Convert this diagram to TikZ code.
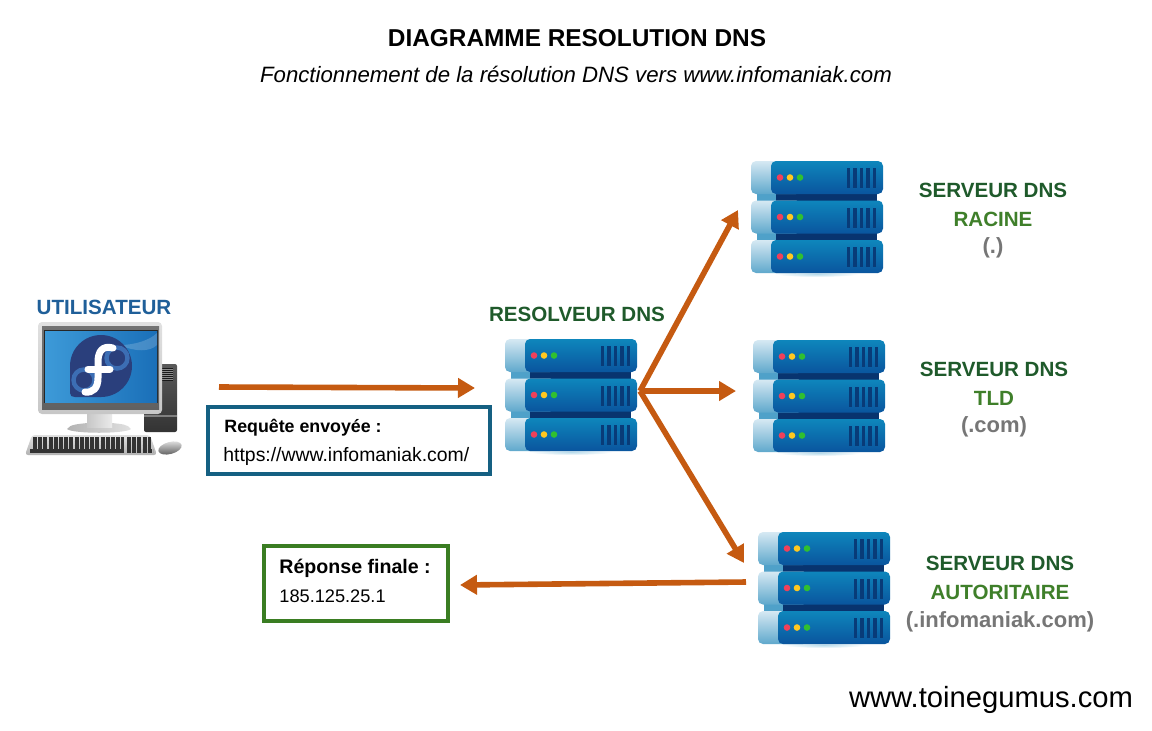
\documentclass[tikz,border=0pt]{standalone}
\usepackage{fontspec}
\setmainfont{Liberation Sans}
\usetikzlibrary{arrows.meta,shadings}
\definecolor{arrowc}{HTML}{C55A11}
\definecolor{dkgreen}{HTML}{1F5A2B}
\definecolor{ltgreen}{HTML}{3F7F2A}
\definecolor{greyt}{HTML}{767676}
\definecolor{bluet}{HTML}{1F5F99}
\definecolor{boxblue}{HTML}{156082}
\definecolor{boxgreen}{HTML}{3A7D22}
\definecolor{srvA}{HTML}{0E86BC}
\definecolor{srvB}{HTML}{0A559E}
\definecolor{srvD}{HTML}{08346F}
\definecolor{srvL}{HTML}{D6E9F3}
\definecolor{srvM}{HTML}{5FA8CC}
\definecolor{fedbg}{HTML}{2A3F7C}
\definecolor{fedsw}{HTML}{3C6EB4}
\definecolor{scrA}{HTML}{3D9AD8}
\definecolor{scrB}{HTML}{1A6FB8}
\definecolor{dotR}{HTML}{F0405A}
\definecolor{dotY}{HTML}{FFC820}
\definecolor{dotG}{HTML}{30C030}
\tikzset{
  flow/.style={draw=arrowc,line width=2.8pt,-{Triangle[length=8.5pt,width=9.5pt]}},
  labelt/.style={font=\bfseries\fontsize{10.3}{12}\selectfont,align=center,inner sep=0pt},
  labelg/.style={font=\bfseries\fontsize{11}{12}\selectfont,align=center,inner sep=0pt,text=greyt},
  infobox/.style={line width=1.8pt,fill=white,inner sep=0pt},
  infot/.style={anchor=west,inner sep=0pt},
}
\newcommand{\rackunit}[1]{%
  \begin{scope}[shift={(0,#1)}]
    \shade[top color=srvL,bottom color=srvM,rounded corners=2.5pt] (0,0) rectangle (50,33);
    \shade[top color=srvA,bottom color=srvB,rounded corners=2.5pt] (20,0) rectangle (132,33);
    \fill[dotR] (29,16.5) circle (3.3);
    \fill[dotY] (39,16.5) circle (3.3);
    \fill[dotG] (49,16.5) circle (3.3);
    \foreach \bx in {95.5,102,108.5,115,121.5}
      \fill[srvD!80!srvB] (\bx,7) rectangle ++(3.6,20);
  \end{scope}}
\newcommand{\serverpic}[2]{%
  \begin{scope}[shift={(#1,#2)}]
    \shade[inner color=srvA!30,outer color=white] (66,113) ellipse[x radius=42,y radius=3];
    \fill[srvM!80!srvA] (6,30) rectangle (25,43);
    \fill[srvM!80!srvA] (6,70) rectangle (25,82);
    \fill[srvD] (25,30) rectangle (126,43);
    \fill[srvD] (25,70) rectangle (126,82);
    \rackunit{0}
    \rackunit{39.5}
    \rackunit{79}
  \end{scope}}
\begin{document}
\begin{tikzpicture}[x=0.5pt,y=-0.5pt]
\useasboundingbox (0,0) rectangle (1152,730);
% Titles
\node[font=\bfseries\fontsize{12.2}{14}\selectfont,inner sep=0pt] (title) at (577,38) {DIAGRAMME RESOLUTION DNS};
\node[font=\itshape\fontsize{11.1}{13}\selectfont,inner sep=0pt] (subtitle) at (576,74) {Fonctionnement de la résolution DNS vers www.infomaniak.com};
% Servers
\serverpic{505}{339}
\serverpic{751}{161}
\serverpic{753}{340}
\serverpic{758}{532}
% Computer
\begin{scope}
  \shade[top color=black!65,bottom color=black!80,rounded corners=1pt] (144,364) rectangle (177,432);
  \fill[black!90] (162,368) rectangle (173,381);
  \foreach \vy in {369,371,373,375,377,379}{\draw[black!45,line width=.4pt] (162,\vy) -- (173,\vy);}
  \fill[black!50] (144,415) rectangle (177,417);
  \shade[left color=black!30,right color=black!12] (67,429) .. controls (70,424) and (80,424) .. (87,423) -- (112,423) .. controls (120,424) and (128,424) .. (131,429) .. controls (125,434) and (73,434) .. (67,429) -- cycle;
  \shade[left color=black!22,right color=black!8] (87,412) rectangle (112,427);
  \shade[top color=black!12,bottom color=black!22,rounded corners=2pt] (38,322) rectangle (162,414);
  \shade[top color=black!55,bottom color=black!62] (42,326) rectangle (159,409);
  \fill[black!85] (44,330) rectangle (158,403);
  \shade[left color=scrA,right color=scrB] (45,331) rectangle (157,402);
  \fill[white,opacity=.18] (120,345) .. controls (135,345) and (150,340) .. (157,333) -- (157,345) .. controls (150,352) and (135,352) .. (120,345) -- cycle;
  % Keyboard
  \shade[top color=black!12,bottom color=black!30,rounded corners=1.5pt] (25,455) -- (32,435) -- (150,435) -- (157,455) -- cycle;
  \foreach \ky in {439,443,447}{
    \draw[black!80,line width=1.6pt,dash pattern=on 2pt off .6pt] (33,\ky) -- (124,\ky);
    \draw[black!80,line width=1.6pt,dash pattern=on 2pt off .6pt] (127,\ky) -- (151,\ky);}
  \draw[black!80,line width=1.6pt] (30,451) -- (124,451);
  \draw[black!80,line width=1.6pt,dash pattern=on 2pt off .6pt] (127,451) -- (153,451);
  % Mouse
  \shade[top color=black!15,bottom color=black!65,rotate around={15:(170,448)}] (170,448) ellipse[x radius=12,y radius=6];
  % Fedora logo
  \fill[fedbg] (101,366) circle (31);
  \fill[fedbg] (70,366) -- (70,393) .. controls (70,396) and (72,397) .. (75,397) -- (101,397) -- cycle;
  \draw[fedsw,line width=2.2pt] (84,380) circle (10.5);
  \draw[fedsw,line width=2.2pt] (117,358) circle (10.5);
  \draw[white,line width=3.5pt,line cap=round] (113,348) .. controls (102,345) and (98,352) .. (98,362) -- (98,378) .. controls (98,388) and (93,393) .. (85,392);
  \draw[white,line width=3.5pt,line cap=round] (88,369) -- (110,369);
\end{scope}
% Labels
\node[labelt,text=bluet] (user) at (104,307) {UTILISATEUR};
\node[labelt,text=dkgreen] (resolver) at (577,314) {RESOLVEUR DNS};
\node[labelt,text=dkgreen] (root1) at (993,190.5) {SERVEUR DNS};
\node[labelt,text=ltgreen] (root2) at (993,219) {RACINE};
\node[labelg] (root3) at (993,248) {(.)};
\node[labelt,text=dkgreen] (tld1) at (994,369.5) {SERVEUR DNS};
\node[labelt,text=ltgreen] (tld2) at (994,398) {TLD};
\node[labelg] (tld3) at (994,427) {(.com)};
\node[labelt,text=dkgreen] (auth1) at (1000,563.5) {SERVEUR DNS};
\node[labelt,text=ltgreen] (auth2) at (1000,592) {AUTORITAIRE};
\node[labelg] (auth3) at (1000,622) {(.infomaniak.com)};
% Info boxes
\node[infobox,draw=boxblue,minimum width=141pt,minimum height=33.5pt] (req) at (349,440.5) {};
\node[infot,font=\bfseries\fontsize{8.9}{10}\selectfont] (reqa) at (224,428) {Requête envoyée :};
\node[infot,font=\fontsize{9.7}{11}\selectfont] (reqb) at (223,456) {https://www.infomaniak.com/};
\node[infobox,draw=boxgreen,minimum width=92pt,minimum height=37.5pt] (ans) at (356,583.5) {};
\node[infot,font=\bfseries\fontsize{9.8}{11}\selectfont] (ansa) at (279,568) {Réponse finale :};
\node[infot,font=\fontsize{9.1}{11}\selectfont] (ansb) at (279,596) {185.125.25.1};
% Connectors
\coordinate (userout) at (219,387);
\coordinate (resin) at (475,388);
\coordinate (hub) at (640,391);
\coordinate (rootin) at (738,210);
\coordinate (tldin) at (736,391);
\coordinate (authin) at (744,563);
\coordinate (authout) at (746,582);
\coordinate (ansin) at (460,585);
\draw[flow] (userout) -- (resin);
\draw[flow] (hub) -- (rootin);
\draw[flow] (hub) -- (tldin);
\draw[flow] (hub) -- (authin);
\draw[flow] (authout) -- (ansin);
% Watermark
\node[font=\fontsize{14.6}{17}\selectfont,inner sep=0pt] (site) at (991,700) {www.toinegumus.com};
\end{tikzpicture}
\end{document}
